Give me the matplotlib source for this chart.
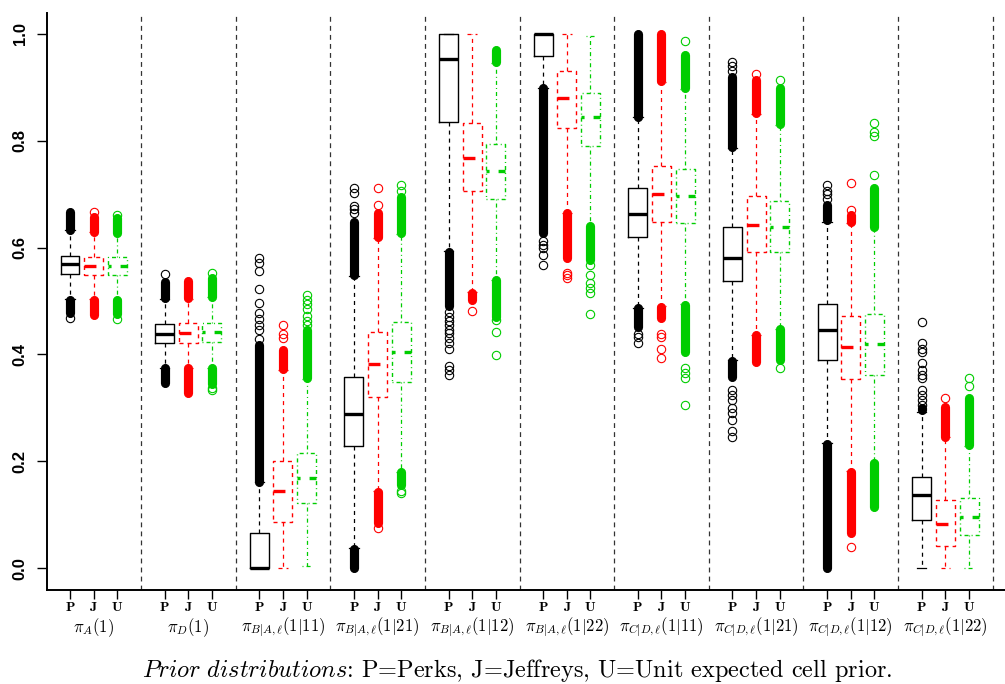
import matplotlib
matplotlib.use('Agg')
import matplotlib.pyplot as plt

# ---- data (posterior-like boxplots, 10 params x 3 priors) ----
groups = [r'$\pi_{A}(1)$', r'$\pi_{D}(1)$',
          r'$\pi_{B|A,\ell}(1|11)$', r'$\pi_{B|A,\ell}(1|21)$',
          r'$\pi_{B|A,\ell}(1|12)$', r'$\pi_{B|A,\ell}(1|22)$',
          r'$\pi_{C|D,\ell}(1|11)$', r'$\pi_{C|D,\ell}(1|21)$',
          r'$\pi_{C|D,\ell}(1|12)$', r'$\pi_{C|D,\ell}(1|22)$']
priors = ['P', 'J', 'U']

# Perks
P_q1  = [.551, .422, .000, .228, .835, .958, .620, .537, .390, .090]
P_med = [.569, .439, .001, .288, .953, .999, .663, .581, .446, .137]
P_q3  = [.585, .456, .065, .358, 1.00, 1.00, .712, .638, .494, .171]
P_lo  = [.503, .375, .000, .037, .593, .899, .487, .389, .235, .000]
P_hi  = [.632, .504, .161, .547, 1.00, 1.00, .844, .787, .648, .293]
P_dense = [[(.477, .502), (.633, .667)], [(.346, .374), (.505, .536)],
           [(.162, .418)], [(0.0, .035), (.549, .648)],
           [(.49, .592)], [(.627, .898)],
           [(.845, 1.0), (.452, .486)], [(.789, .92), (.358, .388)],
           [(0.0, .233), (.652, .68)], [(.296, .30)]]
P_out = [[.468], [.550],
         [.428, .446, .455, .466, .477, .497, .522, .557, .571, .580],
         [.664, .672, .678, .703, .712],
         [.480, .470, .462, .455, .446, .440, .430, .421, .410, .378, .370, .362],
         [.612, .605, .599, .586, .567],
         [.439, .432, .421],
         [.93, .94, .948, .333, .324, .315, .300, .291, .277, .257, .246],
         [.69, .70, .705, .717],
         [.305, .315, .324, .333, .355, .361, .371, .383, .405, .411, .421, .461]]

# Jeffreys
J_q1  = [.549, .422, .086, .320, .705, .823, .648, .592, .354, .042]
J_med = [.566, .440, .144, .382, .767, .880, .700, .643, .413, .082]
J_q3  = [.583, .458, .200, .441, .833, .931, .753, .697, .471, .127]
J_lo  = [.503, .375, .000, .145, .516, .665, .490, .437, .182, .000]
J_hi  = [.629, .504, .370, .617, 1.00, 1.00, .910, .850, .646, .245]
J_dense = [[(.474, .502), (.630, .658)], [(.327, .374), (.505, .537)],
           [(.372, .408)], [(.619, .664), (.085, .143)],
           [(.502, .514)], [(.580, .664)],
           [(.911, 1.0), (.468, .489)], [(.851, .914), (.386, .436)],
           [(.647, .660), (.065, .180)], [(.246, .302)]]
J_out = [[.667], [], [.430, .439, .455], [.680, .712, .075],
         [.482], [.552, .548, .543], [.439, .433, .411, .393],
         [.925], [.670, .720, .040], [.318]]

# Unit expected cell
U_q1  = [.548, .423, .122, .348, .691, .790, .645, .592, .361, .062]
U_med = [.566, .441, .168, .405, .743, .844, .697, .639, .419, .096]
U_q3  = [.583, .458, .216, .461, .794, .890, .747, .688, .475, .132]
U_lo  = [.503, .375, .004, .180, .540, .641, .494, .448, .198, .001]
U_hi  = [.627, .507, .354, .626, .946, .996, .897, .830, .638, .229]
U_dense = [[(.475, .502), (.628, .655)], [(.345, .374), (.508, .543)],
           [(.355, .446)], [(.627, .695), (.155, .179)],
           [(.948, .970), (.47, .539)], [(.577, .640)],
           [(.898, .961), (.405, .493)], [(.831, .898), (.390, .447)],
           [(.639, .711), (.115, .197)], [(.230, .318)]]
U_out = [[.661, .466], [.552, .333, .338],
         [.455, .463, .472, .485, .494, .502, .511],
         [.705, .717, .145, .140],
         [.464, .441, .399],
         [.568, .549, .533, .525, .514, .475],
         [.986, .374, .365, .355, .305],
         [.914, .374], [.736, .808, .817, .833], [.340, .355]]

data = {'P': (P_q1, P_med, P_q3, P_lo, P_hi, P_dense, P_out),
        'J': (J_q1, J_med, J_q3, J_lo, J_hi, J_dense, J_out),
        'U': (U_q1, U_med, U_q3, U_lo, U_hi, U_dense, U_out)}

caption = r'$\mathit{Prior\ distributions}$: P=Perks, J=Jeffreys, U=Unit expected cell prior.'

# ---- styling ----
plt.rcParams['mathtext.fontset'] = 'cm'
plt.rcParams['lines.scale_dashes'] = False
COL = {'P': 'black', 'J': '#FF0000', 'U': '#00CD00'}
LS = {'P': '-', 'J': (0, (2.9, 2.9)), 'U': (0, (0.7, 2.2, 2.9, 2.2))}
WLS = {'P': (0, (2.9, 2.9)), 'J': (0, (2.9, 2.9)), 'U': (0, (0.7, 2.2, 2.9, 2.2))}
MLS = {'P': '-', 'J': (0, (8.6, 8.6)), 'U': (0, (2.2, 6.5, 8.6, 6.5))}

fig = plt.figure(figsize=(10.05, 6.84), dpi=100)
ax = fig.add_axes([47/1005, 94/684, 958/1005, 577/684])

for k, p in enumerate(priors):
    q1, med, q3, lo, hi, dense, out = data[p]
    pos = [4*g + 1 + k for g in range(len(groups))]
    stats = [dict(q1=q1[g], med=med[g], q3=q3[g], whislo=lo[g], whishi=hi[g],
                  fliers=out[g]) for g in range(len(groups))]
    c = COL[p]
    for g in range(len(groups)):
        for a, b in dense[g]:
            ax.vlines(pos[g], a, b, colors=c, lw=6.6, capstyle='round', zorder=2)
    ax.bxp(stats, positions=pos, widths=0.8, manage_ticks=False,
           boxprops=dict(color=c, lw=1.0, linestyle=LS[p]),
           whiskerprops=dict(color=c, lw=0.9, linestyle=WLS[p]),
           capprops=dict(color=c, lw=0.9, linestyle=LS[p]),
           medianprops=dict(color=c, lw=2.4, linestyle=MLS[p], solid_capstyle='butt'),
           flierprops=dict(marker='o', markersize=6, markerfacecolor='none',
                           markeredgecolor=c, markeredgewidth=0.8, linestyle='none'))

for g in range(len(groups)):
    ax.axvline(4*g + 4, color='#333333', lw=0.9, ls=(0, (3.5, 3.0)), zorder=1)

ax.set_xlim(0.028, 40.52)
ax.set_ylim(-0.041, 1.039)
for s in ['top', 'right']:
    ax.spines[s].set_visible(False)
for s in ['left', 'bottom']:
    ax.spines[s].set_linewidth(1.4)

ticks = [4*g + 1 + k for g in range(len(groups)) for k in range(3)]
ax.set_xticks(ticks)
ax.set_xticklabels([r'$\mathbf{%s}$' % priors[k] for g in range(len(groups)) for k in range(3)],
                   fontsize=10)
ax.tick_params(axis='x', length=6.5, width=1.0, pad=1.0)
ax.set_yticks([0.0, 0.2, 0.4, 0.6, 0.8, 1.0])
ax.set_yticklabels(['%.1f' % v for v in [0.0, 0.2, 0.4, 0.6, 0.8, 1.0]],
                   rotation=90, va='center', fontsize=12,
                   family='Liberation Sans', fontweight='bold')
ax.tick_params(axis='y', length=7, width=1.0, pad=7)

for g, lab in enumerate(groups):
    ax.text(4*g + 2, -0.066, lab, transform=ax.get_xaxis_transform(),
            ha='center', va='center', fontsize=12)

fig.text(517/1005, 14/684, caption, ha='center', va='center', fontsize=17.5,
         family='cmr10')

fig.savefig('out.png', dpi=100)
